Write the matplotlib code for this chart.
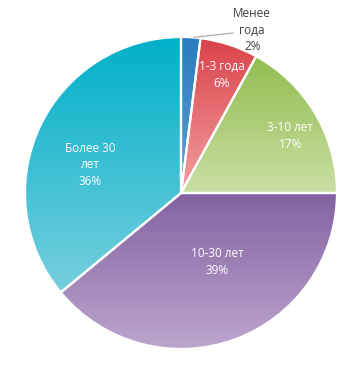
import numpy as np
import matplotlib
matplotlib.use("Agg")
from matplotlib import pyplot as plt
from matplotlib.colors import LinearSegmentedColormap

labels = ["Менее\nгода", "1-3 года", "3-10 лет", "10-30 лет", "Более 30\nлет"]
shares = [2, 6, 17, 39, 36]
# top / bottom colour of each slice gradient
tops = ["#2a7bbf", "#d9434a", "#92bd50", "#8462a3", "#00b0c9"]
bottoms = ["#5f9fd4", "#f3a0a0", "#cadfa4", "#bda7cd", "#76cfde"]

plt.rcParams['font.family'] = ['Open Sans', 'DejaVu Sans']

W, H = 358, 365
cx, cy, R = 181, 193, 156
fig = plt.figure(figsize=(W / 100, H / 100), dpi=100)
ax = fig.add_axes([0, 0, 1, 1])

wedges, _ = ax.pie(shares, radius=R, startangle=90, counterclock=False,
                   colors=tops, wedgeprops=dict(edgecolor="white", linewidth=1.6))

for w, c0, c1 in zip(wedges, tops, bottoms):
    path = w.get_path()
    y0, y1 = path.vertices[:, 1].min(), path.vertices[:, 1].max()
    x0, x1 = path.vertices[:, 0].min(), path.vertices[:, 0].max()
    cmap = LinearSegmentedColormap.from_list("g", [c0, c1])
    grad = np.linspace(0, 1, 256).reshape(-1, 1)
    im = ax.imshow(grad, cmap=cmap, aspect="auto", extent=(x0, x1, y0, y1),
                   origin="upper", zorder=1)
    im.set_clip_path(w)
    w.set_facecolor("none")
    w.set_zorder(2)

# label placement: fraction of radius and angle nudge (deg)
label_r = [1.14, 0.8, 0.79, 0.5, 0.61]
label_da = [-20, -1, -3, 8, 8]
for w, lab, s, r, da in zip(wedges, labels, shares, label_r, label_da):
    ang = np.deg2rad((w.theta1 + w.theta2) / 2 + da)
    x, y = r * R * np.cos(ang), r * R * np.sin(ang)
    col = "#404040" if r > 1 else "white"
    ax.text(x, y, f"{lab}\n{s}%", ha="center", va="center", color=col,
            fontsize=8.5, linespacing=1.35, zorder=3)

# leader line for the smallest slice
w = wedges[0]
a = np.deg2rad((w.theta1 + w.theta2) / 2)
ax.plot([R * np.cos(a) + 3, 52], [R * np.sin(a), cy - 33], color="#a6a6a6",
        linewidth=0.8, zorder=3)

ax.set_xlim(-cx, W - cx)
ax.set_ylim(-(H - cy), cy)
ax.set_aspect("auto")
ax.axis("off")
plt.savefig("out.png", dpi=100)
